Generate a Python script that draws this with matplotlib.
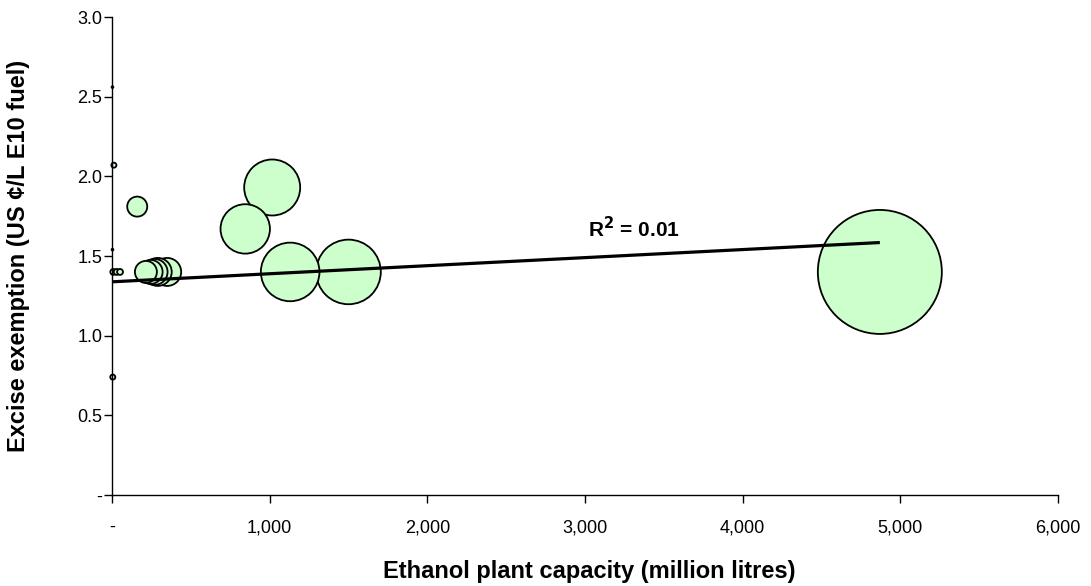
import numpy as np
import matplotlib
matplotlib.use("Agg")
import matplotlib.pyplot as plt

plt.rcParams['font.family'] = ['Liberation Sans', 'DejaVu Sans']

# Data
capacity = [4870, 1500, 1130, 1016, 845, 350, 290, 270, 245, 215, 160,
            8, 30, 51, 12, 3, 3, 5]
exemption = [1.40, 1.40, 1.40, 1.93, 1.67, 1.40, 1.40, 1.40, 1.40, 1.40, 1.81,
             1.40, 1.40, 1.40, 2.07, 2.56, 1.54, 0.74]
bubble_size = [4870, 1322, 1088, 993, 773, 248, 248, 214, 182, 153, 127,
               11, 11, 11, 8, 1, 1, 8]
trend_intercept = 1.338
trend_slope = 5.06e-5
r2_text = "R$^{\\mathbf{2}}$ = 0.01"

x_ticks = [0, 1000, 2000, 3000, 4000, 5000, 6000]
x_labels = ["-", "1,000", "2,000", "3,000", "4,000", "5,000", "6,000"]
y_ticks = [0, 0.5, 1.0, 1.5, 2.0, 2.5, 3.0]
y_labels = ["-", "0.5", "1.0", "1.5", "2.0", "2.5", "3.0"]

fig = plt.figure(figsize=(10.91, 5.86), dpi=100)
ax = fig.add_axes([112/1091, 1-495/586, (1058-112)/1091, (495-17)/586])

sizes = np.array(bubble_size, dtype=float)
r_px = 62 * np.sqrt(sizes / sizes.max())
s_pts = (2 * r_px * 0.72) ** 2
order = np.argsort(-sizes, kind="stable")
xs = np.array(capacity)[order]
ys = np.array(exemption)[order]
ax.scatter(xs, ys, s=s_pts[order], facecolor="#CCFFCC", edgecolor="black",
           linewidth=1.3, zorder=2, clip_on=False)

tx = np.array([0, max(capacity)])
ax.plot(tx, trend_intercept + trend_slope * tx, color="black", lw=2.3,
        solid_capstyle="butt", zorder=3)
ax.text(3020, 1.675, r2_text, fontsize=15, fontweight="bold", va="center",
        ha="left")

ax.set_xlim(0, 6000)
ax.set_ylim(0, 3.0)
ax.set_xticks(x_ticks)
ax.set_xticklabels(x_labels, fontsize=13)
ax.set_yticks(y_ticks)
ax.set_yticklabels(y_labels, fontsize=13)
for sp in ["top", "right"]:
    ax.spines[sp].set_visible(False)
for sp in ["left", "bottom"]:
    ax.spines[sp].set_linewidth(1.0)
ax.tick_params(direction="out", length=5.5, width=1.0)
ax.tick_params(axis="x", pad=12)
ax.tick_params(axis="y", pad=1.5)
ax.set_xlabel("Ethanol plant capacity (million litres)", fontsize=17,
              fontweight="bold")
ax.set_ylabel("Excise exemption (US \u00a2/L E10 fuel)", fontsize=17,
              fontweight="bold")
ax.xaxis.set_label_coords(0.505, -0.136)
ax.yaxis.set_label_coords(-0.087, 0.5)

fig.savefig("out.png", dpi=100)
